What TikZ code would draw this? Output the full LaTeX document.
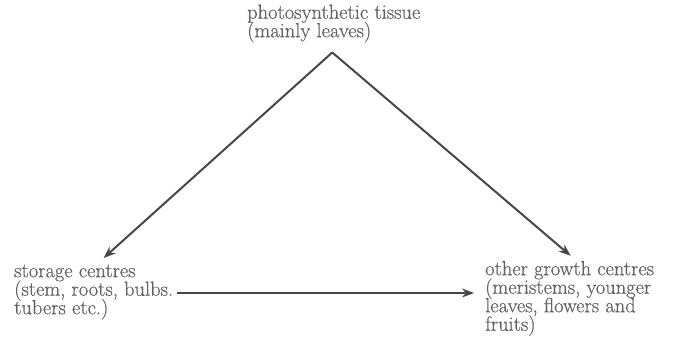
\documentclass[tikz,border=0pt]{standalone}
\usepackage{fontspec}
\newfontfamily\labelface{Latin Modern Roman}[FakeBold=0.5]
\usetikzlibrary{arrows.meta}
\newcommand\labelfont{\labelface\fontsize{20.5}{18.5}\selectfont\lineskiplimit -100pt\relax}
\begin{document}
\begin{tikzpicture}[
    x=1pt,y=-1pt,
    every node/.style={anchor=north west,inner sep=0pt,align=left,text=black!62,
      font=\labelfont},
    >={Stealth[length=12pt,width=9pt]},
    arr/.style={->,line width=2pt,draw=black!72}
]
\useasboundingbox (0,0) rectangle (689,341);
\node (ph) at (247,4.3) {photosynthetic tissue\\(mainly leaves)};
\node (st) at (14,264.4) {storage centres\\(stem, roots, bulbs.\\tubers etc.)};
\node (gr) at (485,260.8) {other growth centres\\(meristems, younger\\leaves, flowers and\\fruits)};

\draw[arr] ([xshift=-1.5pt,yshift=-9.9pt]ph.south) -- ([xshift=10pt,yshift=6.4pt]st.north);
\draw[arr] ([xshift=-1.5pt,yshift=-9.9pt]ph.south) -- ([xshift=1pt,yshift=5pt]gr.north);
\draw[arr] ([xshift=4pt,yshift=-1pt]st.east) -- ([xshift=-11pt,yshift=-1pt]st.east -| gr.west);
\end{tikzpicture}
\end{document}
